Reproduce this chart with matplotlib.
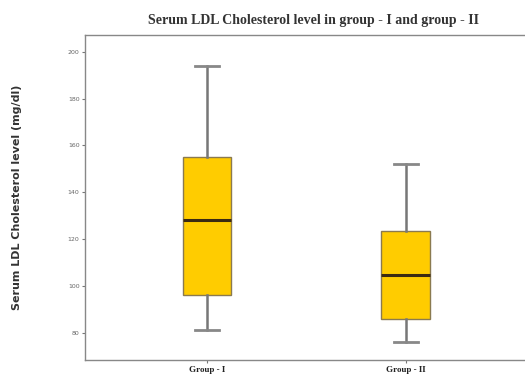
import matplotlib.pyplot as plt

groups = ["Group - I", "Group - II"]
whisker_low = [81, 76]
q1 = [96, 86]
median = [128, 104.5]
q3 = [155, 123.5]
whisker_high = [194, 152]
yticks = [80, 100, 120, 140, 160, 180, 200]

# box statistics for bxp
stats = []
for i, g in enumerate(groups):
    stats.append({"label": g, "whislo": whisker_low[i], "q1": q1[i], "med": median[i],
                  "q3": q3[i], "whishi": whisker_high[i], "fliers": []})

fig = plt.figure(figsize=(5.25, 3.78), dpi=100)
ax = fig.add_axes([0.162, 0.048, 0.85, 0.86])

ax.bxp(stats, positions=[1, 2], widths=0.246, patch_artist=True, showfliers=False,
       boxprops=dict(facecolor="#FFCC00", edgecolor="#8a7a50", linewidth=1.0),
       medianprops=dict(color="#3b2a12", linewidth=2.2),
       whiskerprops=dict(color="#777777", linewidth=1.8),
       capprops=dict(color="#888888", linewidth=2.0),
       capwidths=0.125)

ax.set_xlim(0.387, 2.63)
ax.set_ylim(68.4, 207.3)
ax.set_yticks(yticks)
ax.set_yticklabels([str(v) for v in yticks], fontsize=4.5, color="#666666")
ax.set_xticks([1, 2])
ax.set_xticklabels(groups, fontsize=6.5, fontweight="bold", family="Liberation Serif", color="#222222")
ax.tick_params(axis="y", length=2.5, width=0.8, color="#777777", pad=1.5)
ax.tick_params(axis="x", length=2.5, width=0.8, color="#777777", pad=2)

for side in ["left", "bottom", "top"]:
    ax.spines[side].set_color("#888888")
    ax.spines[side].set_linewidth(1.0)
ax.spines["right"].set_visible(False)

ax.set_ylabel("Serum LDL Cholesterol level (mg/dl)", fontsize=8, fontweight="bold",
              family="DejaVu Sans", color="#333333", labelpad=33)
fig.text(0.597, 0.945, "Serum LDL Cholesterol level in group - I and group - II",
         ha="center", va="center", fontsize=10, fontweight="bold",
         family="Liberation Serif", color="#333333")

fig.savefig("out.png", dpi=100)
